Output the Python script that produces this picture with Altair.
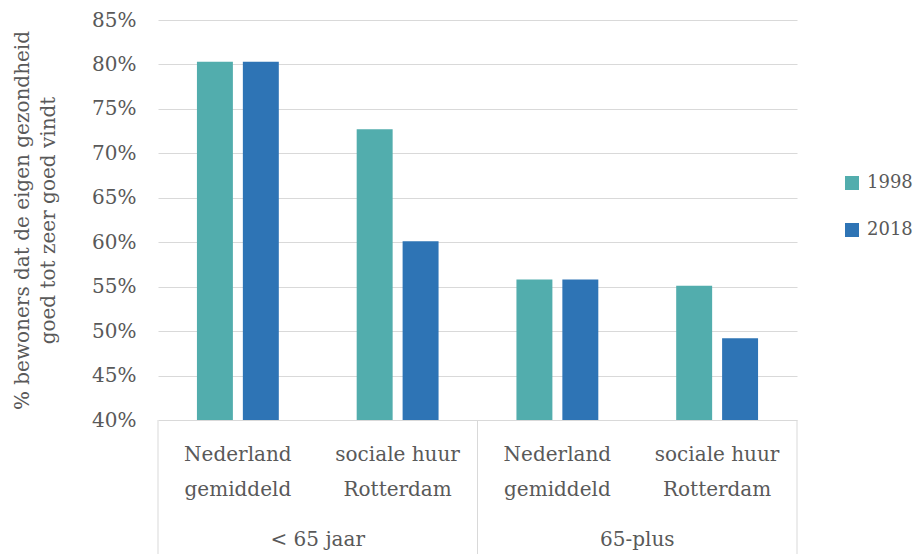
import altair as alt
import pandas as pd

# Chart values
groups = ["< 65 jaar", "< 65 jaar", "65-plus", "65-plus"]
categories = ["Nederland\ngemiddeld", "sociale huur\nRotterdam",
              "Nederland\ngemiddeld", "sociale huur\nRotterdam"]
years = ["1998", "2018"]
values_1998 = [80.3, 72.7, 55.8, 55.1]
values_2018 = [80.3, 60.1, 55.8, 49.2]
y_ticks = [40, 45, 50, 55, 60, 65, 70, 75, 80, 85]
y_title = ["% bewoners dat de eigen gezondheid", "goed tot zeer goed vindt"]
colors = ["#52ADAD", "#2E74B5"]

FONT = "DejaVu Serif"
TEXT = "#595959"
GRID = "#D9D9D9"

slots = [f"{g} | {c}" for g, c in zip(groups, categories)]

rows = []
for s, a, b in zip(slots, values_1998, values_2018):
    rows.append({"slot": s, "year": years[0], "value": a})
    rows.append({"slot": s, "year": years[1], "value": b})
bar_df = pd.DataFrame(rows)

label_df = pd.DataFrame({"slot": slots, "label": categories})
group_df = pd.DataFrame({"slot": [slots[0], slots[2]], "label": [groups[0], groups[2]]})
left_edge_df = pd.DataFrame({"slot": [slots[0]]})
right_edge_df = pd.DataFrame({"slot": [slots[1], slots[3]]})

x_scale = alt.Scale(domain=slots, paddingInner=0, paddingOuter=0)


def xenc(band=0.5):
    return alt.X("slot:N", scale=x_scale, axis=None, bandPosition=band)


bars = alt.Chart(bar_df).mark_bar().encode(
    x=alt.X("slot:N", scale=x_scale, axis=None),
    xOffset=alt.XOffset("year:N", scale=alt.Scale(paddingInner=0.217, paddingOuter=0.848)),
    y=alt.Y(
        "value:Q",
        scale=alt.Scale(domain=[40, 85], zero=False, nice=False),
        axis=alt.Axis(
            values=y_ticks,
            labelExpr="datum.value + '%'",
            grid=True,
            gridColor=GRID,
            gridWidth=1,
            domain=False,
            ticks=False,
            labelFont=FONT,
            labelFontSize=20,
            labelColor=TEXT,
            labelPadding=22,
            title=y_title,
            titleFont=FONT,
            titleFontSize=20,
            titleFontWeight="normal",
            titleColor=TEXT,
            titlePadding=33,
            titleLineHeight=26,
        ),
    ),
    y2=alt.datum(40),
    color=alt.Color(
        "year:N",
        scale=alt.Scale(domain=years, range=colors),
        legend=alt.Legend(
            title=None,
            orient="none",
            legendX=685,
            legendY=154,
            symbolType="square",
            symbolSize=196,
            symbolStrokeWidth=0,
            labelFont=FONT,
            labelFontSize=18,
            labelColor=TEXT,
            labelOffset=6,
            rowPadding=29,
            padding=0,
        ),
    ),
)

cat_labels = alt.Chart(label_df).mark_text(
    lineBreak="\n", font=FONT, fontSize=20, color=TEXT,
    baseline="middle", lineHeight=35,
).encode(x=xenc(0.5), y=alt.value(435), text="label:N")

group_labels = alt.Chart(group_df).mark_text(
    font=FONT, fontSize=20, color=TEXT, baseline="middle",
).encode(x=xenc(1), y=alt.value(520), text="label:N")

left_rule = alt.Chart(left_edge_df).mark_rule(color=GRID, strokeWidth=1).encode(
    x=xenc(0), y=alt.value(400), y2=alt.value(540)
)
right_rules = alt.Chart(right_edge_df).mark_rule(color=GRID, strokeWidth=1).encode(
    x=xenc(1), y=alt.value(400), y2=alt.value(540)
)

chart = alt.layer(bars, left_rule, right_rules, cat_labels, group_labels).properties(
    width=639,
    height=400,
    autosize=alt.AutoSizeParams(type="none"),
    padding={"left": 158, "top": 20, "right": 118, "bottom": 134},
).configure_view(stroke=None)

chart.save("out.html", embed_options={"renderer": "svg", "actions": False})
